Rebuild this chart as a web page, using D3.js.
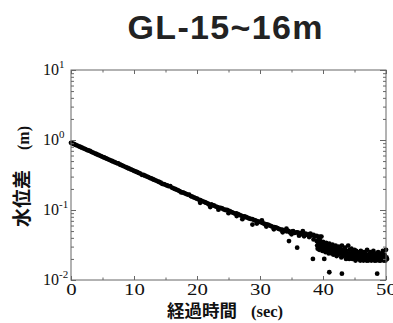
<!DOCTYPE html>
<html><head><meta charset="utf-8">
<script src="https://cdn.jsdelivr.net/npm/d3@7"></script>
<style>html,body{margin:0;padding:0;background:#fff;}svg{display:block;}</style>
</head><body>
<svg id="c" width="393" height="323"></svg>
<script>
const titleText = "GL-15~16m";
const xLabelCJK = "経過時間", xLabelUnit = "(sec)";
const yLabelCJK = "水位差", yLabelUnit = "(m)";
const xTicks = [0, 10, 20, 30, 40, 50];
const xMinorTicks = [5, 15, 25, 35, 45];
const yDecades = [0.01, 0.1, 1, 10];
const yDecadeExp = ["-2", "-1", "0", "1"];

// main record: sampled every 0.25 s from t = 0
const sampleStep = 0.25;
const mainValues = [
 0.912,0.891,0.871,0.851,0.832,0.813,0.794,0.776,0.759,0.741,
 0.724,0.708,0.700,0.676,0.661,0.646,0.631,0.617,0.603,0.589,
 0.575,0.562,0.550,0.537,0.525,0.513,0.501,0.490,0.479,0.468,
 0.462,0.447,0.437,0.427,0.417,0.407,0.398,0.389,0.380,0.372,
 0.363,0.355,0.347,0.339,0.331,0.318,0.316,0.309,0.302,0.295,
 0.288,0.282,0.275,0.269,0.263,0.257,0.251,0.245,0.236,0.234,
 0.229,0.224,0.219,0.219,0.209,0.204,0.200,0.195,0.191,0.186,
 0.178,0.178,0.174,0.170,0.166,0.166,0.158,0.155,0.151,0.148,
 0.145,0.141,0.138,0.135,0.132,0.129,0.126,0.123,0.117,0.120,
 0.117,0.115,0.112,0.110,0.107,0.107,0.105,0.102,0.100,0.100,
 0.0977,0.0955,0.0933,0.0912,0.0890,0.0891,0.0871,0.0851,0.0832,0.0810,
 0.0813,0.0794,0.0776,0.0759,0.0745,0.0741,0.0724,0.0708,0.0692,0.0680,
 0.0676,0.0661,0.0646,0.0631,0.0625,0.0617,0.0603,0.0589,0.0575,0.0570,
 0.0562,0.0550,0.0537,0.0525,0.0525,0.0505,0.0513,0.0495,0.0501,0.0478,
 0.0490,0.0500,0.0470,0.0479,0.0480,0.0455,0.0468,0.0450,0.0457,0.0460,
 0.0440,0.0447,0.0430,0.0437,0.0440,0.0420,0.0427,0.0410,0.0417,0.0417
];
// scattered band after the drop, 0.25 s apart from t = 39
const tailStart = 39;
const tailUpper = [
 0.036,0.034,0.037,0.033,0.035,0.032,0.034,0.031,0.033,0.030,
 0.032,0.029,0.031,0.028,0.030,0.028,0.031,0.027,0.029,0.026,
 0.031,0.027,0.028,0.025,0.027,0.026,0.025,0.024,0.026,0.023,
 0.025,0.024,0.027,0.023,0.025,0.024,0.026,0.023,0.024,0.025,
 0.023,0.024,0.026,0.023,0.027
];
const tailMid = [
 0.031,0.032,0.030,0.031,0.029,0.030,0.028,0.029,0.027,0.028,
 0.026,0.027,0.026,0.025,0.026,0.024,0.025,0.025,0.023,0.024,
 0.023,0.024,0.022,0.023,0.022,0.023,0.022,0.021,0.022,0.022,
 0.021,0.022,0.021,0.022,0.021,0.022,0.021,0.022,0.021,0.022,
 0.021,0.022,0.021,0.022,0.021
];
const tailLower = [
 0.028,0.027,0.029,0.026,0.027,0.025,0.027,0.024,0.026,0.024,
 0.023,0.025,0.022,0.023,0.024,0.021,0.022,0.023,0.020,0.022,
 0.020,0.021,0.020,0.021,0.019,0.020,0.021,0.019,0.020,0.019,
 0.020,0.019,0.019,0.020,0.019,0.020,0.019,0.019,0.020,0.019,
 0.019,0.020,0.019,0.019,0.020
];
// extra points around the main trace
const extraTimes  = [20.5,22.1,23.4,25.0,26.3,27.2,29.5,31.0,32.2,33.6,35.0,36.2,37.0,37.8,38.5,30.3,34.2,36.8,38.0];
const extraValues = [0.127,0.110,0.101,0.090,0.082,0.074,0.064,0.058,0.053,0.048,0.045,0.043,0.042,0.041,0.038,0.071,0.054,0.050,0.046];
// isolated outliers
const outlierTimes  = [28.8,34.6,35.9,38.4,40.2,41.0,43.0,48.6];
const outlierValues = [0.062,0.036,0.029,0.020,0.020,0.0129,0.0123,0.0123];

const svg = d3.select("#c");
const L = 71, R = 386, T = 70, B = 280;
const x = d3.scaleLinear().domain([0, 50]).range([L, R]);
const y = d3.scaleLog().domain([0.01, 10]).range([B, T]);

// title
svg.append("text").attr("x", 225).attr("y", 39).attr("text-anchor", "middle")
  .attr("font-family", "Liberation Sans, Arial, sans-serif").attr("font-weight", "bold")
  .attr("font-size", 34).attr("fill", "#222")
  .attr("textLength", 195).attr("lengthAdjust", "spacing").text(titleText);

// points
const pts = [];
mainValues.forEach((v, i) => pts.push([i * sampleStep, v]));
tailUpper.forEach((v, i) => pts.push([tailStart + i * sampleStep, v]));
tailMid.forEach((v, i) => pts.push([tailStart + i * sampleStep + 0.08, v]));
tailLower.forEach((v, i) => pts.push([tailStart + i * sampleStep + 0.16, v]));
extraTimes.forEach((t, i) => pts.push([t, extraValues[i]]));
outlierTimes.forEach((t, i) => pts.push([t, outlierValues[i]]));
svg.append("g").selectAll("circle").data(pts).join("circle")
  .attr("cx", d => x(d[0])).attr("cy", d => y(d[1])).attr("r", 2.4).attr("fill", "#000");

const axisColor = "#666";
function styleAxis(g) {
  g.select(".domain").remove();
  g.selectAll(".tick line").attr("stroke", axisColor);
}
// frame
svg.append("rect").attr("x", L).attr("y", T).attr("width", R - L).attr("height", B - T)
  .attr("fill", "none").attr("stroke", axisColor).attr("stroke-width", 1);

// x axes
const xb = svg.append("g").attr("transform", `translate(0,${B})`)
  .call(d3.axisBottom(x).tickValues(xTicks).tickSizeInner(-4).tickSizeOuter(0).tickPadding(4).tickFormat(d3.format("d")));
styleAxis(xb);
xb.selectAll("text").attr("font-family", "Liberation Serif, Times New Roman, serif").attr("font-size", 16).attr("fill", "#111")
  .attr("transform", "scale(1.3,1)");
styleAxis(svg.append("g").attr("transform", `translate(0,${B})`)
  .call(d3.axisBottom(x).tickValues(xMinorTicks).tickSizeInner(-2.5).tickSizeOuter(0).tickFormat("")));
styleAxis(svg.append("g").attr("transform", `translate(0,${T})`)
  .call(d3.axisTop(x).tickValues(xTicks).tickSizeInner(-4).tickSizeOuter(0).tickFormat("")));
styleAxis(svg.append("g").attr("transform", `translate(0,${T})`)
  .call(d3.axisTop(x).tickValues(xMinorTicks).tickSizeInner(-2.5).tickSizeOuter(0).tickFormat("")));

// y axes
const yMinor = [];
yDecades.slice(0, 3).forEach(d => { for (let m = 2; m <= 9; m++) yMinor.push(d * m); });
const yl = svg.append("g").attr("transform", `translate(${L},0)`)
  .call(d3.axisLeft(y).tickValues(yDecades).tickSizeInner(-5).tickSizeOuter(0).tickFormat(""));
styleAxis(yl);
yl.selectAll(".tick").each(function(d, i) {
  const t = d3.select(this).append("text").attr("x", -28).attr("y", 4)
    .attr("text-anchor", "start").attr("fill", "#111")
    .attr("font-family", "Liberation Serif, Times New Roman, serif").attr("font-size", 16);
  t.append("tspan").text("10");
  t.append("tspan").attr("dy", -7).attr("font-size", 11).text(yDecadeExp[i]);
});
styleAxis(svg.append("g").attr("transform", `translate(${L},0)`)
  .call(d3.axisLeft(y).tickValues(yMinor).tickSizeInner(-3).tickSizeOuter(0).tickFormat("")));
styleAxis(svg.append("g").attr("transform", `translate(${R},0)`)
  .call(d3.axisRight(y).tickValues(yDecades).tickSizeInner(-6).tickSizeOuter(0).tickFormat("")));
styleAxis(svg.append("g").attr("transform", `translate(${R},0)`)
  .call(d3.axisRight(y).tickValues(yMinor).tickSizeInner(-3).tickSizeOuter(0).tickFormat("")));

// x label
const xl = svg.append("text").attr("x", 167).attr("y", 317).attr("fill", "#111");
xl.append("tspan").attr("font-family", "Noto Sans CJK JP").attr("font-weight", "bold").attr("font-size", 17.5).text(xLabelCJK);
xl.append("tspan").attr("dx", 14).attr("font-family", "Liberation Serif, serif").attr("font-weight", "bold").attr("font-size", 16.5).text(xLabelUnit);

// y label
const ylab = svg.append("text").attr("transform", "translate(29,227) rotate(-90)").attr("fill", "#111");
ylab.append("tspan").attr("font-family", "Noto Sans CJK JP").attr("font-weight", "bold").attr("font-size", 19).text(yLabelCJK);
ylab.append("tspan").attr("dx", 20).attr("font-family", "Liberation Serif, serif").attr("font-weight", "bold").attr("font-size", 16).text(yLabelUnit);
</script>
</body></html>
